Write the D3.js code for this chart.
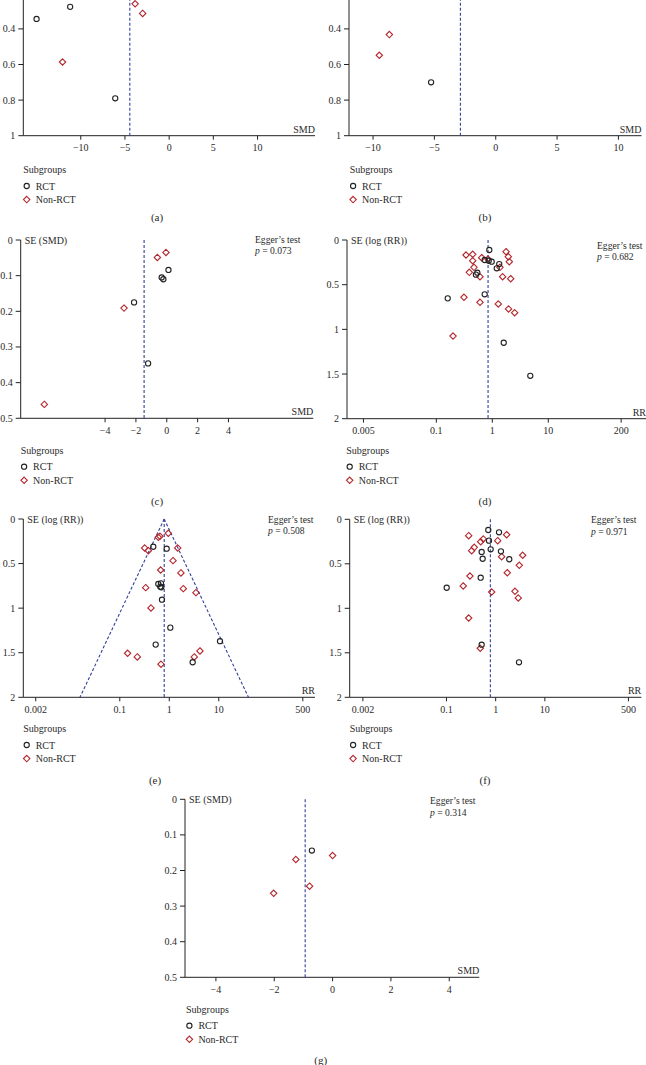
<!DOCTYPE html>
<html><head><meta charset="utf-8">
<script src="https://cdn.jsdelivr.net/npm/d3@7"></script>
<style>
body{margin:0;background:#fff}
svg{display:block}
text{font-family:"Liberation Serif","DejaVu Serif",serif;fill:#2a2a2a;font-size:10px}
</style>
</head><body><svg id="c" width="646" height="1065"></svg>
<script>
// ---------- DATA ----------
// (a) SMD vs SE(SMD)
const aRCT = [[-15.0,0.344],[-11.2,0.276],[-6.1,0.79]];
const aNonRCT = [[-12.06,0.586],[-3.85,0.259],[-3.0,0.313]];
const aPooled = -4.45;
// (b)
const bRCT = [[-5.27,0.70]];
const bNonRCT = [[-8.67,0.432],[-9.49,0.548]];
const bPooled = -2.88;
// (c)
const cRCT = [[-2.12,0.175],[-1.21,0.346],[0.11,0.084],[-0.33,0.105],[-0.22,0.110]];
const cNonRCT = [[-7.94,0.461],[-2.77,0.191],[-0.61,0.049],[-0.05,0.035]];
const cPooled = -1.47;
const cEgger = "0.073";
// (d) RR vs SE(log RR)
const dRCT = [[0.884,0.112],[0.731,0.224],[0.863,0.232],[0.975,0.243],[1.33,0.269],[1.20,0.317],
  [0.54,0.366],[0.51,0.388],[0.731,0.608],[0.16,0.653],[1.60,1.15],[4.77,1.52]];
const dNonRCT = [[1.76,0.131],[1.93,0.187],[2.01,0.243],[0.339,0.168],[0.447,0.160],[0.447,0.232],
  [0.647,0.198],[0.838,0.213],[0.471,0.306],[0.388,0.362],[0.603,0.411],[1.37,0.306],[1.53,0.411],
  [2.13,0.433],[0.312,0.641],[0.603,0.697],[1.28,0.716],[1.95,0.772],[2.51,0.814],[0.199,1.075]];
const dPooled = 0.84;
const dEgger = "0.682";
// (e)
const eRCT = [[0.886,0.333],[0.475,0.311],[0.60,0.729],[0.68,0.721],[0.658,0.759],[0.689,0.766],
  [0.712,0.905],[1.05,1.219],[0.531,1.409],[10.6,1.371],[2.97,1.607]];
const eNonRCT = [[0.955,0.160],[0.60,0.205],[0.649,0.194],[0.318,0.325],[0.377,0.355],[1.48,0.325],
  [1.19,0.467],[0.67,0.572],[1.72,0.605],[0.334,0.770],[1.92,0.781],[3.46,0.826],[0.427,0.998],
  [0.144,1.506],[0.226,1.547],[4.17,1.480],[3.20,1.547],[0.68,1.629]];
const ePooled = 0.79;
const eEgger = "0.508";
// (f)
const fRCT = [[0.707,0.120],[1.17,0.146],[0.731,0.240],[0.791,0.337],[0.519,0.367],[1.28,0.360],
  [0.544,0.443],[1.89,0.449],[0.496,0.656],[0.101,0.769],[0.519,1.409],[2.98,1.607]];
const fNonRCT = [[0.283,0.184],[1.67,0.173],[0.56,0.221],[0.496,0.252],[1.10,0.240],[0.367,0.315],
  [0.325,0.353],[3.54,0.404],[1.32,0.420],[3.02,0.517],[1.72,0.600],[0.30,0.637],[0.219,0.749],
  [0.83,0.817],[2.47,0.809],[2.88,0.884],[0.283,1.109],[0.486,1.449]];
const fPooled = 0.78;
const fEgger = "0.971";
// (g)
const gRCT = [[-0.71,0.144]];
const gNonRCT = [[0,0.158],[-1.26,0.169],[-0.79,0.244],[-2.02,0.264]];
const gPooled = -0.94;
const gEgger = "0.314";

// tick labels
const smdTicksWide = [-10,-5,0,5,10];
const smdTicksNarrow = [-4,-2,0,2,4];
const rrTicksD = [0.005,0.1,1,10,200];
const rrTicksEF = [0.002,0.1,1,10,500];
const seTicksAB = [0.4,0.6,0.8,1];
const seTicksSMD = [0,0.1,0.2,0.3,0.4,0.5];
const seTicksRR = [0,0.5,1,1.5,2];
const legendLabels = ["RCT","Non-RCT"];

// ---------- DRAW ----------
const svg = d3.select('#c');
const BLUE = "#33409a", RED = "#b3262c", BLACK = "#222";
const fmtNum = v => (v<0 ? "\u2212" + Math.abs(v) : String(v));

function panel(cfg){
  const g = svg.append('g');
  const x = cfg.log ? d3.scaleLog().domain(cfg.xDomain).range([cfg.x0,cfg.x1])
                    : d3.scaleLinear().domain(cfg.xDomain).range([cfg.x0,cfg.x1]);
  const y = d3.scaleLinear().domain([0,cfg.yMax]).range([cfg.y0,cfg.y1]);

  // axes
  g.append('line').attr('x1',cfg.x0).attr('x2',cfg.x0).attr('y1',y(0)).attr('y2',y(cfg.yMax))
    .attr('stroke',BLACK).attr('stroke-width',1);
  g.append('line').attr('x1',cfg.x0).attr('x2',cfg.x1).attr('y1',y(cfg.yMax)).attr('y2',y(cfg.yMax))
    .attr('stroke',BLACK).attr('stroke-width',1);
  cfg.yTicks.forEach(t=>{
    g.append('line').attr('x1',cfg.x0-5).attr('x2',cfg.x0).attr('y1',y(t)).attr('y2',y(t)).attr('stroke',BLACK);
    g.append('text').attr('x',cfg.x0-8).attr('y',y(t)).attr('dy','0.35em').attr('text-anchor','end').text(String(t));
  });
  cfg.xTicks.forEach(t=>{
    g.append('line').attr('x1',x(t)).attr('x2',x(t)).attr('y1',y(cfg.yMax)).attr('y2',y(cfg.yMax)+4).attr('stroke',BLACK);
    g.append('text').attr('x',x(t)).attr('y',y(cfg.yMax)+15.5).attr('text-anchor','middle').text(fmtNum(t));
  });
  g.append('text').attr('x',cfg.x1).attr('y',y(cfg.yMax)-3).attr('text-anchor','end').text(cfg.xTitle);
  if(cfg.yTitle) g.append('text').attr('x',cfg.x0+4).attr('y',y(0)+3.5).text(cfg.yTitle);

  // funnel
  if(cfg.funnel){
    [-1,1].forEach(s=>{
      g.append('line').attr('x1',x(cfg.pooled)).attr('y1',y(0))
        .attr('x2',x(cfg.pooled*Math.exp(s*1.96*cfg.yMax))).attr('y2',y(cfg.yMax))
        .attr('stroke',BLUE).attr('stroke-width',1.1).attr('stroke-dasharray','3,2');
    });
  }
  // pooled line
  g.append('line').attr('x1',x(cfg.pooled)).attr('x2',x(cfg.pooled)).attr('y1',y(0)).attr('y2',y(cfg.yMax))
    .attr('stroke',BLUE).attr('stroke-width',1.1).attr('stroke-dasharray','3,2');

  // points
  const dia = "M0,-3.2L3.2,0L0,3.2L-3.2,0Z";
  g.selectAll(null).data(cfg.non).enter().append('path')
    .attr('d',dia).attr('transform',d=>`translate(${x(d[0])},${y(d[1])})`)
    .attr('fill','none').attr('stroke',RED).attr('stroke-width',1.1);
  g.selectAll(null).data(cfg.rct).enter().append('circle')
    .attr('cx',d=>x(d[0])).attr('cy',d=>y(d[1])).attr('r',2.6)
    .attr('fill','none').attr('stroke',BLACK).attr('stroke-width',1.1);

  // egger
  if(cfg.egger){
    g.append('text').attr('x',cfg.eggerX).attr('y',cfg.eggerY).style('font-size','9.6px').text("Egger\u2019s test");
    const t = g.append('text').attr('x',cfg.eggerX).attr('y',cfg.eggerY+11.5).style('font-size','9.6px');
    t.append('tspan').attr('font-style','italic').text('p');
    t.append('tspan').text(' = ' + cfg.egger);
  }

  // legend
  const lx = cfg.legX, ly = cfg.legY;
  g.append('text').attr('x',lx).attr('y',ly+3.5).text('Subgroups');
  g.append('circle').attr('cx',lx+3.4).attr('cy',ly+16.7).attr('r',2.6)
    .attr('fill','none').attr('stroke',BLACK).attr('stroke-width',1.1);
  g.append('text').attr('x',lx+12.4).attr('y',ly+20.2).text(legendLabels[0]);
  g.append('path').attr('d',dia).attr('transform',`translate(${lx+3.4},${ly+30.3})`)
    .attr('fill','none').attr('stroke',RED).attr('stroke-width',1.1);
  g.append('text').attr('x',lx+12.4).attr('y',ly+33.8).text(legendLabels[1]);

  // caption
  g.append('text').attr('x',cfg.capX).attr('y',cfg.capY).attr('text-anchor','middle')
    .style('font-size','11px').text(cfg.cap);
}

panel({x0:23.3,x1:315,xDomain:[-16.5,16.5],y0:-42.3,y1:135.7,yMax:1,
  xTicks:smdTicksWide,yTicks:seTicksAB,xTitle:"SMD",yTitle:null,
  rct:aRCT,non:aNonRCT,pooled:aPooled,legX:23.3,legY:169.3,cap:"(a)",capX:157,capY:221});
panel({x0:349,x1:641.5,xDomain:[-11.96,11.88],y0:-42.3,y1:135.7,yMax:1,
  xTicks:smdTicksWide,yTicks:seTicksAB,xTitle:"SMD",yTitle:null,
  rct:bRCT,non:bNonRCT,pooled:bPooled,legX:349.7,legY:169.3,cap:"(b)",capX:485,capY:221});
panel({x0:20.7,x1:313.3,xDomain:[-9.47,9.5],y0:240,y1:418.3,yMax:0.5,
  xTicks:smdTicksNarrow,yTicks:seTicksSMD,xTitle:"SMD",yTitle:"SE (SMD)",
  rct:cRCT,non:cNonRCT,pooled:cPooled,egger:cEgger,eggerX:255,eggerY:242.5,
  legX:20.7,legY:450,cap:"(c)",capX:157,capY:505});
panel({x0:347,x1:646,log:true,xDomain:[Math.pow(10,-2.595),Math.pow(10,2.745)],y0:240,y1:418.7,yMax:2,
  xTicks:rrTicksD,yTicks:seTicksRR,xTitle:"RR",yTitle:"SE (log (RR))",
  rct:dRCT,non:dNonRCT,pooled:dPooled,egger:dEgger,eggerX:597,eggerY:248.5,
  legX:346.3,legY:450,cap:"(d)",capX:485,capY:505});
panel({x0:23.3,x1:315,log:true,xDomain:[Math.pow(10,-2.95),Math.pow(10,2.945)],y0:519,y1:697.3,yMax:2,
  xTicks:rrTicksEF,yTicks:seTicksRR,xTitle:"RR",yTitle:"SE (log (RR))",funnel:true,
  rct:eRCT,non:eNonRCT,pooled:ePooled,egger:eEgger,eggerX:268,eggerY:522.5,
  legX:23.3,legY:728.3,cap:"(e)",capX:155,capY:784});
panel({x0:349.7,x1:641.3,log:true,xDomain:[Math.pow(10,-2.967),Math.pow(10,2.96)],y0:519.3,y1:697.3,yMax:2,
  xTicks:rrTicksEF,yTicks:seTicksRR,xTitle:"RR",yTitle:"SE (log (RR))",
  rct:fRCT,non:fNonRCT,pooled:fPooled,egger:fEgger,eggerX:591,eggerY:523,
  legX:349.7,legY:728.3,cap:"(f)",capX:485,capY:784});
panel({x0:185,x1:479.3,xDomain:[-5.06,5.03],y0:799.3,y1:977.3,yMax:0.5,
  xTicks:smdTicksNarrow,yTicks:seTicksSMD,xTitle:"SMD",yTitle:"SE (SMD)",
  rct:gRCT,non:gNonRCT,pooled:gPooled,egger:gEgger,eggerX:430,eggerY:804,
  legX:186,legY:1009,cap:"(g)",capX:320.7,capY:1064});
</script>
</body></html>
